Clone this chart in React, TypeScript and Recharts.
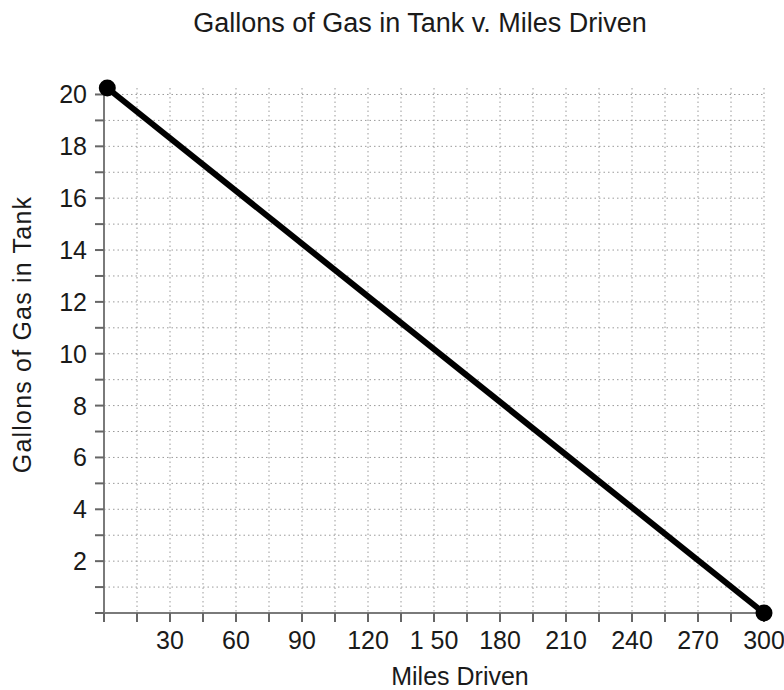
import { CartesianGrid, Line, LineChart, XAxis, YAxis } from "recharts";

const miles = [1.5, 300];
const gallons = [20.25, 0];

const xTicks = [0, 15, 30, 45, 60, 75, 90, 105, 120, 135, 150, 165, 180, 195, 210, 225, 240, 255, 270, 285, 300];
const xLabels: Record<number, string> = {
  30: "30", 60: "60", 90: "90", 120: "120", 150: "1 50",
  180: "180", 210: "210", 240: "240", 270: "270", 300: "300",
};
const yTicks = [0, 1, 2, 3, 4, 5, 6, 7, 8, 9, 10, 11, 12, 13, 14, 15, 16, 17, 18, 19, 20];
const yLabels = [2, 4, 6, 8, 10, 12, 14, 16, 18, 20];

const FONT = "'Liberation Sans', Arial, sans-serif";
const INK = "#1a1a1a";

const data = miles.map((m, i) => ({ miles: m, gallons: gallons[i] }));

function XTick({ x, y, payload }: any) {
  const label = xLabels[payload.value];
  if (!label) return null;
  return (
    <text x={x} y={y} dy={23} textAnchor="middle" fontSize={25} fontFamily={FONT} fill={INK}>
      {label}
    </text>
  );
}

function YTick({ x, y, payload }: any) {
  if (!yLabels.includes(payload.value)) return null;
  return (
    <text x={x} y={y} dy={9} textAnchor="end" fontSize={25} fontFamily={FONT} fill={INK}>
      {payload.value}
    </text>
  );
}

function XLabel({ viewBox }: any) {
  const cx = viewBox.x + viewBox.width / 2 + 26;
  return (
    <text x={cx} y={685} textAnchor="middle" fontSize={25} fontFamily={FONT} fill={INK}>
      Miles Driven
    </text>
  );
}

function YLabel({ viewBox }: any) {
  const cy = viewBox.y + viewBox.height / 2 - 16;
  return (
    <text
      x={31}
      y={cy}
      transform={`rotate(-90 31 ${cy})`}
      textAnchor="middle"
      fontSize={25}
      letterSpacing={1.2}
      fontFamily={FONT}
      fill={INK}
    >
      Gallons of Gas in Tank
    </text>
  );
}

export default function App() {
  return (
    <div style={{ position: "absolute", left: 0, top: 0, width: 784, height: 690, background: "#fff" }}>
      <div
        style={{
          position: "absolute",
          left: 0,
          width: 840,
          top: 8,
          textAlign: "center",
          fontFamily: FONT,
          fontSize: 27,
          color: INK,
        }}
      >
        Gallons of Gas in Tank v. Miles Driven
      </div>
      <LineChart width={784} height={690} data={data} margin={{ top: 88, right: 20, bottom: 0, left: 0 }}>
        <CartesianGrid stroke="#9a9a9a" strokeDasharray="1.5 3" horizontalValues={yTicks} verticalValues={xTicks} />
        <XAxis
          dataKey="miles"
          type="number"
          domain={[0, 300]}
          ticks={xTicks}
          interval={0}
          height={77}
          tick={<XTick />}
          tickSize={9}
          tickMargin={4}
          axisLine={{ stroke: "#7a7a7a", strokeWidth: 2 }}
          tickLine={{ stroke: "#666", strokeWidth: 2 }}
          label={<XLabel />}
        />
        <YAxis
          dataKey="gallons"
          type="number"
          domain={[0, 20.25]}
          ticks={yTicks}
          interval={0}
          width={104}
          tick={<YTick />}
          tickSize={9}
          tickMargin={8}
          axisLine={{ stroke: "#7a7a7a", strokeWidth: 2 }}
          tickLine={{ stroke: "#666", strokeWidth: 2 }}
          label={<YLabel />}
        />
        <Line
          dataKey="gallons"
          stroke="#000"
          strokeWidth={6}
          dot={{ r: 5.5, fill: "#000", stroke: "#000" }}
          isAnimationActive={false}
        />
      </LineChart>
    </div>
  );
}
